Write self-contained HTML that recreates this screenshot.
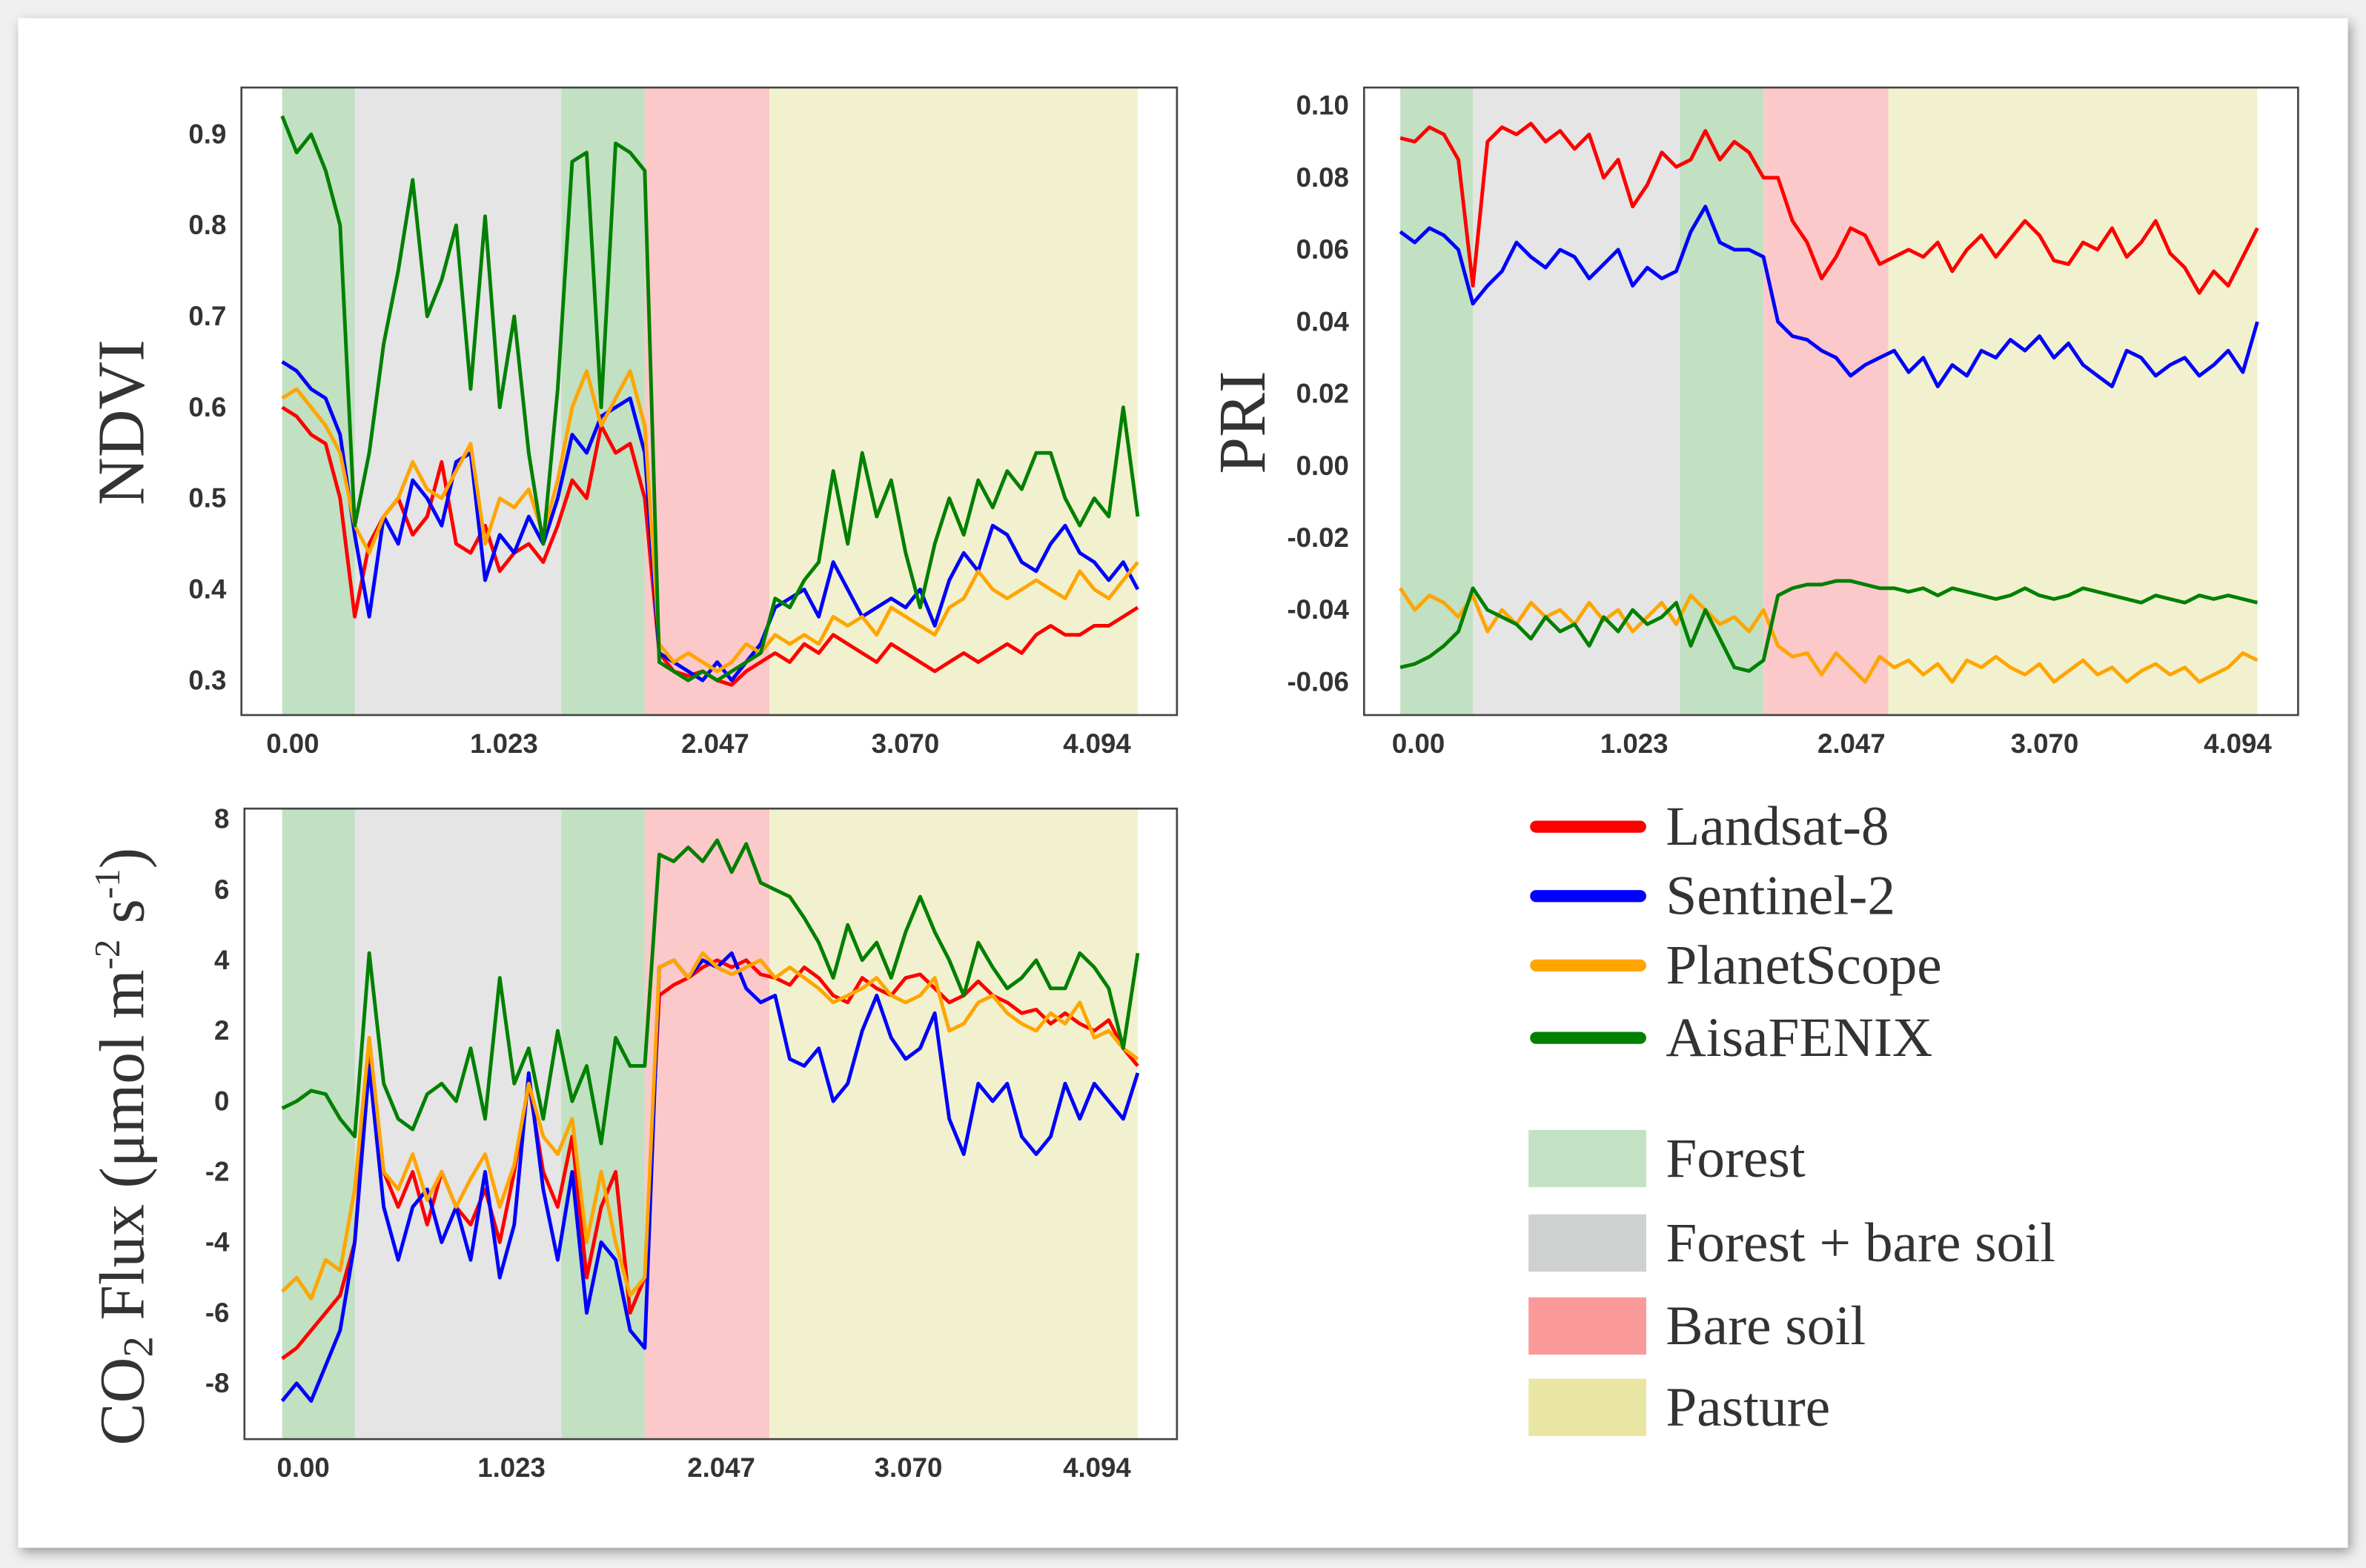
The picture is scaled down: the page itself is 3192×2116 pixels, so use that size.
<!DOCTYPE html>
<html><head><meta charset="utf-8">
<style>
html,body{margin:0;padding:0;background:#ececec;}
svg{display:block;}
.tick{font-family:"Liberation Sans",sans-serif;font-weight:bold;font-size:18px;fill:#333;}
.ser{font-family:"Liberation Serif",serif;fill:#333;}
</style></head>
<body>
<svg id="chart" width="3192" height="2116" viewBox="0 0 1568 1039.4" xmlns="http://www.w3.org/2000/svg">
<defs><filter id="sh" x="-5%" y="-5%" width="110%" height="110%"><feGaussianBlur stdDeviation="4"/></filter></defs>
<rect x="0" y="0" width="1568" height="1040" fill="#f0f0f0"/>
<rect x="14" y="15" width="1544" height="1014" fill="#999" filter="url(#sh)"/>
<rect x="12" y="12" width="1544" height="1014" fill="#fff"/>
<g id="plots"></g>
<g id="legend"></g>
</svg>
<script>
const NS="http://www.w3.org/2000/svg";
const xTickLabels=["0.00","1.023","2.047","3.070","4.094"];
const bandNames=["Forest","Forest + bare soil","Forest","Bare soil","Pasture"];
const bandEdges=[0,5,19.25,25,33.6,59];
const seriesNames=["Landsat-8","Sentinel-2","PlanetScope","AisaFENIX"];
const seriesColors=["#ff0000","#0000ff","#ffa500","#008000"];

const ndviRed=[0.60,0.59,0.57,0.56,0.50,0.37,0.45,0.48,0.50,0.46,0.48,0.54,0.45,0.44,0.47,0.42,0.44,0.45,0.43,0.47,0.52,0.50,0.58,0.55,0.56,0.50,0.33,0.31,0.305,0.31,0.30,0.295,0.31,0.32,0.33,0.32,0.34,0.33,0.35,0.34,0.33,0.32,0.34,0.33,0.32,0.31,0.32,0.33,0.32,0.33,0.34,0.33,0.35,0.36,0.35,0.35,0.36,0.36,0.37,0.38];
const ndviBlue=[0.65,0.64,0.62,0.61,0.57,0.46,0.37,0.48,0.45,0.52,0.50,0.47,0.54,0.55,0.41,0.46,0.44,0.48,0.45,0.50,0.57,0.55,0.59,0.60,0.61,0.55,0.33,0.32,0.31,0.30,0.32,0.30,0.32,0.34,0.38,0.39,0.40,0.37,0.43,0.40,0.37,0.38,0.39,0.38,0.40,0.36,0.41,0.44,0.42,0.47,0.46,0.43,0.42,0.45,0.47,0.44,0.43,0.41,0.43,0.40];
const ndviOrange=[0.61,0.62,0.60,0.58,0.55,0.47,0.44,0.48,0.50,0.54,0.51,0.50,0.53,0.56,0.45,0.50,0.49,0.51,0.46,0.52,0.60,0.64,0.58,0.61,0.64,0.58,0.34,0.32,0.33,0.32,0.31,0.32,0.34,0.33,0.35,0.34,0.35,0.34,0.37,0.36,0.37,0.35,0.38,0.37,0.36,0.35,0.38,0.39,0.42,0.40,0.39,0.40,0.41,0.40,0.39,0.42,0.40,0.39,0.41,0.43];
const ndviGreen=[0.92,0.88,0.90,0.86,0.80,0.47,0.55,0.67,0.75,0.85,0.70,0.74,0.80,0.62,0.81,0.60,0.70,0.55,0.45,0.62,0.87,0.88,0.60,0.89,0.88,0.86,0.32,0.31,0.30,0.31,0.30,0.31,0.32,0.33,0.39,0.38,0.41,0.43,0.53,0.45,0.55,0.48,0.52,0.44,0.38,0.45,0.50,0.46,0.52,0.49,0.53,0.51,0.55,0.55,0.50,0.47,0.50,0.48,0.60,0.48];

const priRed=[0.091,0.090,0.094,0.092,0.085,0.050,0.090,0.094,0.092,0.095,0.090,0.093,0.088,0.092,0.080,0.085,0.072,0.078,0.087,0.083,0.085,0.093,0.085,0.090,0.087,0.080,0.080,0.068,0.062,0.052,0.058,0.066,0.064,0.056,0.058,0.060,0.058,0.062,0.054,0.060,0.064,0.058,0.063,0.068,0.064,0.057,0.056,0.062,0.060,0.066,0.058,0.062,0.068,0.059,0.055,0.048,0.054,0.050,0.058,0.066];
const priBlue=[0.065,0.062,0.066,0.064,0.060,0.045,0.050,0.054,0.062,0.058,0.055,0.060,0.058,0.052,0.056,0.060,0.050,0.055,0.052,0.054,0.065,0.072,0.062,0.060,0.060,0.058,0.040,0.036,0.035,0.032,0.030,0.025,0.028,0.030,0.032,0.026,0.030,0.022,0.028,0.025,0.032,0.030,0.035,0.032,0.036,0.030,0.034,0.028,0.025,0.022,0.032,0.030,0.025,0.028,0.030,0.025,0.028,0.032,0.026,0.040];
const priOrange=[-0.034,-0.040,-0.036,-0.038,-0.042,-0.036,-0.046,-0.040,-0.044,-0.038,-0.042,-0.040,-0.044,-0.038,-0.043,-0.040,-0.046,-0.042,-0.038,-0.044,-0.036,-0.040,-0.044,-0.042,-0.046,-0.040,-0.050,-0.053,-0.052,-0.058,-0.052,-0.056,-0.060,-0.053,-0.056,-0.054,-0.058,-0.055,-0.060,-0.054,-0.056,-0.053,-0.056,-0.058,-0.055,-0.060,-0.057,-0.054,-0.058,-0.056,-0.060,-0.057,-0.055,-0.058,-0.056,-0.060,-0.058,-0.056,-0.052,-0.054];
const priGreen=[-0.056,-0.055,-0.053,-0.050,-0.046,-0.034,-0.040,-0.042,-0.044,-0.048,-0.042,-0.046,-0.044,-0.050,-0.042,-0.046,-0.040,-0.044,-0.042,-0.038,-0.050,-0.040,-0.048,-0.056,-0.057,-0.054,-0.036,-0.034,-0.033,-0.033,-0.032,-0.032,-0.033,-0.034,-0.034,-0.035,-0.034,-0.036,-0.034,-0.035,-0.036,-0.037,-0.036,-0.034,-0.036,-0.037,-0.036,-0.034,-0.035,-0.036,-0.037,-0.038,-0.036,-0.037,-0.038,-0.036,-0.037,-0.036,-0.037,-0.038];

const co2Red=[-7.3,-7.0,-6.5,-6.0,-5.5,-4.0,1.5,-2.0,-3.0,-2.0,-3.5,-2.0,-3.0,-3.5,-2.5,-4.0,-2.0,0.5,-2.0,-3.0,-1.0,-5.0,-3.0,-2.0,-6.0,-5.0,3.0,3.3,3.5,3.8,4.0,3.8,4.0,3.6,3.5,3.3,3.8,3.5,3.0,2.8,3.5,3.2,3.0,3.5,3.6,3.2,2.8,3.0,3.4,3.0,2.8,2.5,2.6,2.2,2.5,2.2,2.0,2.3,1.5,1.0];
const co2Blue=[-8.5,-8.0,-8.5,-7.5,-6.5,-4.0,1.0,-3.0,-4.5,-3.0,-2.5,-4.0,-3.0,-4.5,-2.0,-5.0,-3.5,0.8,-2.5,-4.5,-2.0,-6.0,-4.0,-4.5,-6.5,-7.0,3.8,4.0,3.5,4.0,3.8,4.2,3.2,2.8,3.0,1.2,1.0,1.5,0.0,0.5,2.0,3.0,1.8,1.2,1.5,2.5,-0.5,-1.5,0.5,0.0,0.5,-1.0,-1.5,-1.0,0.5,-0.5,0.5,0.0,-0.5,0.8];
const co2Orange=[-5.4,-5.0,-5.6,-4.5,-4.8,-2.5,1.8,-2.0,-2.5,-1.5,-2.8,-2.0,-3.0,-2.2,-1.5,-3.0,-1.8,0.5,-1.0,-1.5,-0.5,-4.0,-2.0,-4.0,-5.5,-5.0,3.8,4.0,3.5,4.2,3.8,3.6,3.8,4.0,3.5,3.8,3.5,3.2,2.8,3.0,3.2,3.5,3.0,2.8,3.0,3.5,2.0,2.2,2.8,3.0,2.5,2.2,2.0,2.5,2.2,2.8,1.8,2.0,1.5,1.2];
const co2Green=[-0.2,0.0,0.3,0.2,-0.5,-1.0,4.2,0.5,-0.5,-0.8,0.2,0.5,0.0,1.5,-0.5,3.5,0.5,1.5,-0.5,2.0,0.0,1.0,-1.2,1.8,1.0,1.0,7.0,6.8,7.2,6.8,7.4,6.5,7.3,6.2,6.0,5.8,5.2,4.5,3.5,5.0,4.0,4.5,3.5,4.8,5.8,4.8,4.0,3.0,4.5,3.8,3.2,3.5,4.0,3.2,3.2,4.2,3.8,3.2,1.5,4.2];

const bandColors=["#c2e0c2","#e4e5e4","#c2e0c2","#fbc9c9","#f2f1cf"];
function el(tag,attrs,parent){const e=document.createElementNS(NS,tag);for(const k in attrs)e.setAttribute(k,attrs[k]);parent.appendChild(e);return e;}
const root=document.getElementById('plots');

function panel(cfg){
  const g=el('g',{},root);
  
  
  const x=i=>cfg.dx0+(cfg.dx1-cfg.dx0)*i/59;
  const y=v=>cfg.py0+(cfg.py1-cfg.py0)*(v-cfg.v0)/(cfg.v1-cfg.v0);
  for(let b=0;b<5;b++){
    const r=el('rect',{x:x(bandEdges[b]),y:cfg.top,width:x(bandEdges[b+1])-x(bandEdges[b]),height:cfg.bot-cfg.top,fill:bandColors[b]},g);
    
    
  }
  cfg.series.forEach((s,k)=>{
    const p=el('polyline',{points:s.map((v,i)=>x(i).toFixed(1)+','+y(v).toFixed(1)).join(' '),fill:'none',stroke:seriesColors[k],'stroke-width':2.4,'stroke-linejoin':'round'},g);
    
    
  });
  const fr=el('rect',{x:cfg.left,y:cfg.top,width:cfg.right-cfg.left,height:cfg.bot-cfg.top,fill:'none',stroke:'#444','stroke-width':1.3},g);
  
  
  cfg.yTicks.forEach((t,i)=>{
    const tx=el('text',{x:cfg.left-10,y:y(cfg.yVals[i])+6,'text-anchor':'end',class:'tick'},g);
    tx.textContent=t;
    
    
  });
  xTickLabels.forEach((t,i)=>{
    const tx=el('text',{x:cfg.xt[i],y:cfg.bot+25,'text-anchor':'middle',class:'tick'},g);
    tx.textContent=t;
    
    
  });
}
panel({name:'ndvi',left:160,right:780,top:58,bot:474,dx0:187,dx1:754,v0:0.9,v1:0.3,py0:89,py1:451,
  yTicks:["0.9","0.8","0.7","0.6","0.5","0.4","0.3"],yVals:[0.9,0.8,0.7,0.6,0.5,0.4,0.3],
  xt:[194,334,474,600,727],series:[ndviRed,ndviBlue,ndviOrange,ndviGreen]});
panel({name:'pri',left:904,right:1523,top:58,bot:474,dx0:928,dx1:1496,v0:0.10,v1:-0.06,py0:70,py1:452,
  yTicks:["0.10","0.08","0.06","0.04","0.02","0.00","-0.02","-0.04","-0.06"],yVals:[0.10,0.08,0.06,0.04,0.02,0,-0.02,-0.04,-0.06],
  xt:[940,1083,1227,1355,1483],series:[priRed,priBlue,priOrange,priGreen]});
panel({name:'co2',left:162,right:780,top:536,bot:954,dx0:187,dx1:754,v0:8,v1:-8,py0:543,py1:917,
  yTicks:["8","6","4","2","0","-2","-4","-6","-8"],yVals:[8,6,4,2,0,-2,-4,-6,-8],
  xt:[201,339,478,602,727],series:[co2Red,co2Blue,co2Orange,co2Green]});

function title(txt,cx,cy,size,name){
  const t=el('text',{x:cx,y:cy,'text-anchor':'middle',class:'ser','font-size':size,transform:`rotate(-90 ${cx} ${cy})`},root);
  t.innerHTML=txt;
  
  
}
title('NDVI',95,280,44,'ndvi-y-axis-title');
title('PRI',838,280,44,'pri-y-axis-title');
title('CO<tspan font-size="28" dy="6">2</tspan><tspan dy="-6"> Flux (μmol m</tspan><tspan font-size="24" dy="-16">-2</tspan><tspan dy="16"> s</tspan><tspan font-size="24" dy="-16">-1</tspan><tspan dy="16">)</tspan>',95,760,42,'co2-y-axis-title');

const lg=document.getElementById('legend');
const lineY=[548,594,640,688];
seriesNames.forEach((n,k)=>{
  const l=el('line',{x1:1018,x2:1087,y1:lineY[k],y2:lineY[k],stroke:seriesColors[k],'stroke-width':8,'stroke-linecap':'round'},lg);
  
  
  const t=el('text',{x:1104,y:lineY[k]+12,class:'ser','font-size':37},lg);
  t.textContent=n;
  
  
});
const patchNames=["Forest","Forest + bare soil","Bare soil","Pasture"];
const patchColors=["#c3e2c3","#cfd0d0","#fa9a9a","#e8e6a2"];
const patchY=[749,805,860,914];
patchNames.forEach((n,k)=>{
  const r=el('rect',{x:1013,y:patchY[k],width:78,height:38,fill:patchColors[k]},lg);
  
  
  const t=el('text',{x:1104,y:patchY[k]+31,class:'ser','font-size':37},lg);
  t.textContent=n;
  
  
});
</script>
</body></html>
